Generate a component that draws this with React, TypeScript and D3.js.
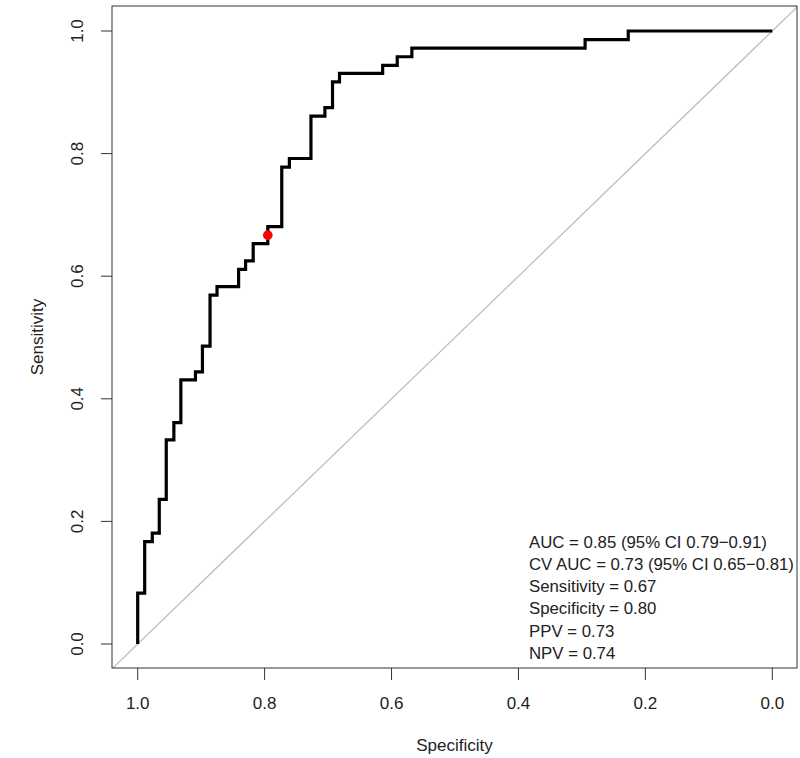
import React from "react";
import * as d3 from "d3";

const specificity = [1.0, 1.0, 0.989, 0.989, 0.977, 0.977, 0.966, 0.966, 0.955, 0.955, 0.943, 0.943, 0.932, 0.932, 0.909, 0.909, 0.898, 0.898, 0.886, 0.886, 0.875, 0.875, 0.841, 0.841, 0.830, 0.830, 0.818, 0.818, 0.795, 0.795, 0.773, 0.773, 0.761, 0.761, 0.727, 0.727, 0.705, 0.705, 0.693, 0.693, 0.682, 0.682, 0.614, 0.614, 0.591, 0.591, 0.568, 0.568, 0.295, 0.295, 0.227, 0.227, 0.0];
const sensitivity = [0.0, 0.083, 0.083, 0.167, 0.167, 0.181, 0.181, 0.236, 0.236, 0.333, 0.333, 0.361, 0.361, 0.431, 0.431, 0.444, 0.444, 0.486, 0.486, 0.569, 0.569, 0.583, 0.583, 0.611, 0.611, 0.625, 0.625, 0.653, 0.653, 0.681, 0.681, 0.778, 0.778, 0.792, 0.792, 0.861, 0.861, 0.875, 0.875, 0.917, 0.917, 0.931, 0.931, 0.944, 0.944, 0.958, 0.958, 0.972, 0.972, 0.986, 0.986, 1.0, 1.0];

const bestPoint = { spec: 0.795, sens: 0.667 };
const ticks = [0, 0.2, 0.4, 0.6, 0.8, 1.0];
const legendLines = [
  "AUC = 0.85 (95% CI 0.79\u22120.91)",
  "CV AUC = 0.73 (95% CI 0.65\u22120.81)",
  "Sensitivity = 0.67",
  "Specificity = 0.80",
  "PPV = 0.73",
  "NPV = 0.74",
];

const W = 800;
const H = 758;
const box = { left: 112, right: 797, top: 6, bottom: 668 };

export default function App() {
  const x = d3.scaleLinear().domain([1, 0]).range([137.7, 772.3]);
  const y = d3.scaleLinear().domain([0, 1]).range([644, 31]);
  const pts = specificity.map((s, i) => [x(s), y(sensitivity[i])] as [number, number]);
  const line = d3.line()(pts) || "";
  const font = "'Liberation Sans', Arial, sans-serif";
  const xMid = (box.left + box.right) / 2;
  const yMid = (box.top + box.bottom) / 2;
  return (
    <svg width={W} height={H} style={{ position: "absolute", left: 0, top: 0, background: "#fff" }} fontFamily={font}>
      <defs>
        <clipPath id="plotclip">
          <rect x={box.left} y={box.top} width={box.right - box.left} height={box.bottom - box.top} />
        </clipPath>
      </defs>
      <rect x={0} y={0} width={W} height={H} fill="#fff" />
      <g clipPath="url(#plotclip)">
        <line x1={x(1.1)} y1={y(-0.1)} x2={x(-0.1)} y2={y(1.1)} stroke="#bebebe" strokeWidth={1.3} />
        <path d={line} fill="none" stroke="#000" strokeWidth={3.2} strokeLinejoin="miter" />
        <circle cx={x(bestPoint.spec)} cy={y(bestPoint.sens)} r={4.8} fill="#ff0000" />
      </g>
      <rect x={box.left} y={box.top} width={box.right - box.left} height={box.bottom - box.top} fill="none" stroke="#333" strokeWidth={1} />
      {ticks.map((t) => (
        <g key={"x" + t}>
          <line x1={x(t)} x2={x(t)} y1={box.bottom} y2={box.bottom + 12} stroke="#333" />
          <text x={x(t)} y={703} textAnchor="middle" dominantBaseline="central" fontSize={17} fill="#222">
            {t.toFixed(1)}
          </text>
        </g>
      ))}
      {ticks.map((t) => (
        <g key={"y" + t}>
          <line x1={box.left} x2={box.left - 11} y1={y(t)} y2={y(t)} stroke="#333" />
          <text
            transform={`translate(77,${y(t)}) rotate(-90)`}
            textAnchor="middle"
            dominantBaseline="central"
            fontSize={17}
            fill="#222"
          >
            {t.toFixed(1)}
          </text>
        </g>
      ))}
      <text x={xMid} y={745} textAnchor="middle" dominantBaseline="central" fontSize={17} fill="#222">
        Specificity
      </text>
      <text transform={`translate(37,${yMid}) rotate(-90)`} textAnchor="middle" dominantBaseline="central" fontSize={17} fill="#222">
        Sensitivity
      </text>
      {legendLines.map((s, i) => (
        <text key={s} x={529} y={542 + i * 22.3} dominantBaseline="central" fontSize={16.8} fill="#222">
          {s}
        </text>
      ))}
    </svg>
  );
}
